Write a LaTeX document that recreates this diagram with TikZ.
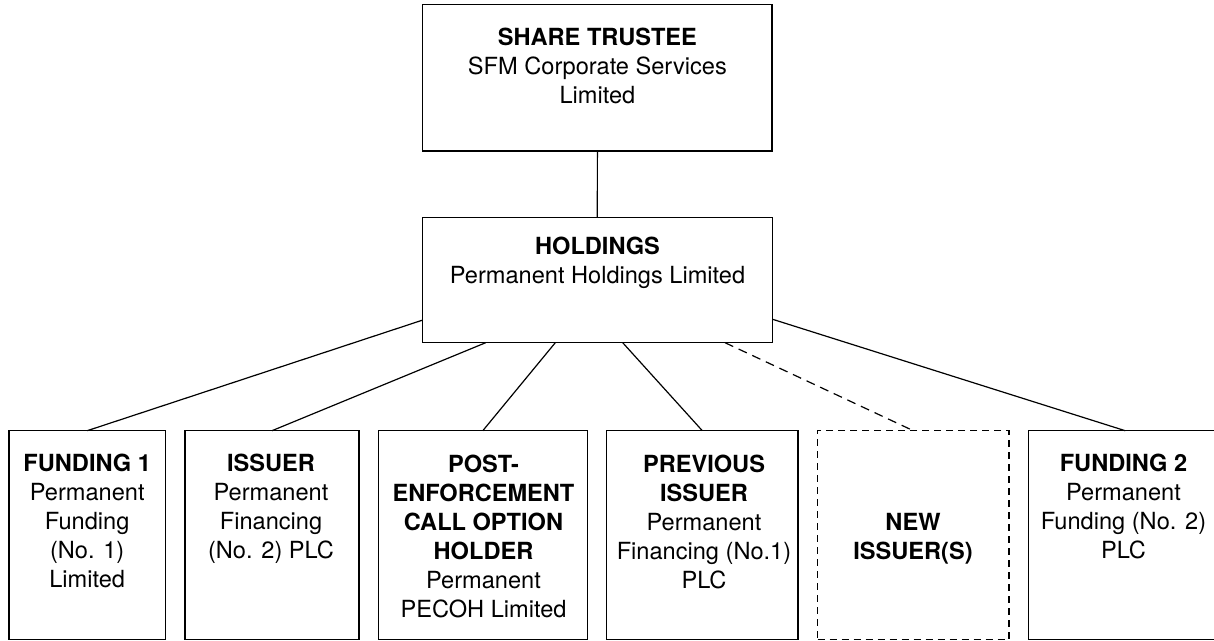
\documentclass[tikz,border=0pt]{standalone}
\usepackage{fontspec}
\setmainfont{TeX Gyre Heros}
\begin{document}
\begin{tikzpicture}[x=0.5pt,y=-0.5pt,
  box/.style={draw, rectangle, inner sep=0pt, outer sep=0pt, line width=0.65pt},
  dbox/.style={box, dash pattern=on 3.5pt off 2.5pt},
  conn/.style={line width=0.6pt},
  dconn/.style={conn, dash pattern=on 4.5pt off 3pt},
  txt/.style={font=\fontsize{11.8}{14.5}\selectfont, align=center, inner sep=0pt, anchor=north}]
\useasboundingbox (0,0) rectangle (1214,641);
\clip (0,0) rectangle (1214,641);
% boxes
\node[box, minimum width=174.65pt, minimum height=73.15pt] (trustee) at (597.4,77.9) {};
\node[box, minimum width=175pt, minimum height=62.5pt] (hold) at (597.3,280.2) {};
\node[box, minimum width=78.15pt, minimum height=104.4pt] (fund1) at (87.2,535.1) {};
\node[box, minimum width=87pt, minimum height=104.4pt] (issuer) at (272,535.1) {};
\node[box, minimum width=104.5pt, minimum height=104.4pt] (pecoh) at (482.8,535.1) {};
\node[box, minimum width=95.65pt, minimum height=104.4pt] (prev) at (702.3,535.1) {};
\node[dbox, minimum width=95.65pt, minimum height=104.4pt] (new) at (913.3,535.1) {};
\node[box, minimum width=96.85pt, minimum height=104.4pt] (fund2) at (1125.2,535.1) {};
% texts
\node[txt] (ttrustee) at (597.4,27.3) {\textbf{SHARE TRUSTEE}\\SFM Corporate Services\\Limited};
\node[txt] (thold) at (597.5,236.6) {\textbf{HOLDINGS}\\Permanent Holdings Limited};
\node[txt] (tfund1) at (87.2,454) {\textbf{FUNDING 1}\\Permanent\\Funding\\(No. 1)\\Limited};
\node[txt] (tissuer) at (271,454) {\textbf{ISSUER}\\Permanent\\Financing\\(No. 2) PLC};
\node[txt] (tpecoh) at (483.5,454.5) {\textbf{POST-}\\\textbf{ENFORCEMENT}\\\textbf{CALL OPTION}\\\textbf{HOLDER}\\Permanent\\PECOH Limited};
\node[txt] (tprev) at (704,454.5) {\textbf{PREVIOUS}\\\textbf{ISSUER}\\Permanent\\Financing (No.1)\\PLC};
\node[txt] (tnew) at (913,513.3) {\textbf{NEW}\\\textbf{ISSUER(S)}};
\node[txt] (tfund2) at (1123.5,454) {\textbf{FUNDING 2}\\Permanent\\Funding (No. 2)\\PLC};
% connector start points on holdings
\coordinate (hw) at ([yshift=-20pt]hold.west);
\coordinate (he) at ([yshift=-19.5pt]hold.east);
\coordinate (h2) at ([xshift=-55.8pt]hold.south);
\coordinate (h3) at ([xshift=-21pt]hold.south);
\coordinate (h4) at ([xshift=12.7pt]hold.south);
\coordinate (h5) at ([xshift=63.85pt]hold.south);
% connectors
\draw[conn] (trustee.south) -- (hold.north);
\draw[conn] (hw) -- (fund1.north);
\draw[conn] (h2) -- (issuer.north);
\draw[conn] (h3) -- (pecoh.north);
\draw[conn] (h4) -- (prev.north);
\draw[dconn] (h5) -- (new.north);
\draw[conn] (he) -- (fund2.north);
\end{tikzpicture}
\end{document}
